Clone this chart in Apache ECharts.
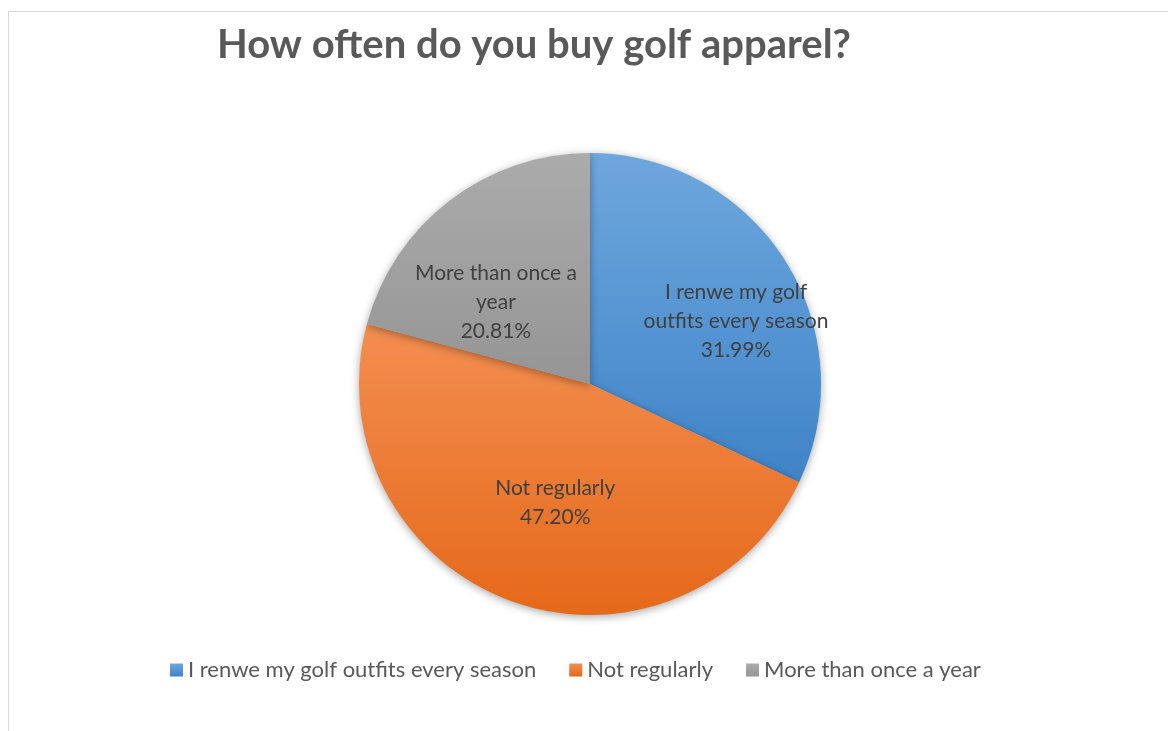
<!DOCTYPE html>
<html>
<head>
<meta charset="utf-8">
<script src="https://cdn.jsdelivr.net/npm/echarts@6/dist/echarts.min.js"></script>
<style>
  html, body { margin: 0; padding: 0; background: #fff; }
  #frame { position: absolute; left: 8px; top: 11px; width: 1200px; height: 760px;
           border-left: 1px solid #D9D9D9; border-top: 1px solid #D9D9D9; }
  #chart { position: absolute; left: 0; top: 0; width: 1168px; height: 731px; }
</style>
</head>
<body>
<div id="frame"></div>
<div id="chart"></div>
<script>
// Survey answers and their shares (%)
const categories = ['I renwe my golf outfits every season', 'Not regularly', 'More than once a year'];
const shares = [31.99, 47.20, 20.81];
// Wrapped text used inside the slices
const sliceLabels = ['I renwe my golf\noutfits every season', 'Not regularly', 'More than once a\nyear'];

// Slice fills: top-to-bottom gradient stops
const fillTop = ['#6EA7DD', '#F38E50', '#ABABAB'];
const fillBottom = ['#3F84C8', '#E5691A', '#959595'];
// Label nudges from the default inside position
const labelShift = [[46, 1], [6, 7], [-22, 12]];

const FONT = 'Lato, "Open Sans", sans-serif';

const chart = echarts.init(document.getElementById('chart'), null, { renderer: 'canvas' });

const data = categories.map((name, i) => ({
  name,
  value: shares[i],
  itemStyle: {
    color: {
      type: 'linear', x: 0, y: 0, x2: 0, y2: 1,
      colorStops: [{ offset: 0, color: fillTop[i] }, { offset: 1, color: fillBottom[i] }]
    }
  }
}));

chart.setOption({
  animation: false,
  title: {
    text: 'How often do you buy golf apparel?',
    left: 529,
    top: 20,
    textAlign: 'center',
    textStyle: { fontFamily: FONT, fontSize: 40, fontWeight: 'bold', color: '#595959' }
  },
  legend: {
    left: 165,
    top: 654,
    icon: 'rect',
    itemWidth: 13,
    itemHeight: 13,
    itemGap: 33,
    textStyle: { fontFamily: FONT, fontSize: 22, color: '#595959' },
    data: categories
  },
  series: [{
    type: 'pie',
    center: [590, 384],
    radius: 231,
    startAngle: 90,
    clockwise: true,
    silent: true,
    itemStyle: {
      shadowBlur: 8,
      shadowColor: 'rgba(0,0,0,0.35)',
      shadowOffsetY: 2
    },
    label: {
      show: true,
      position: 'inside',
      fontFamily: FONT,
      fontSize: 21,
      lineHeight: 29,
      color: '#404040',
      formatter: p => sliceLabels[p.dataIndex] + '\n' + shares[p.dataIndex].toFixed(2) + '%'
    },
    labelLine: { show: false },
    labelLayout: p => ({ dx: labelShift[p.dataIndex][0], dy: labelShift[p.dataIndex][1] }),
    data
  }]
});
</script>
</body>
</html>
